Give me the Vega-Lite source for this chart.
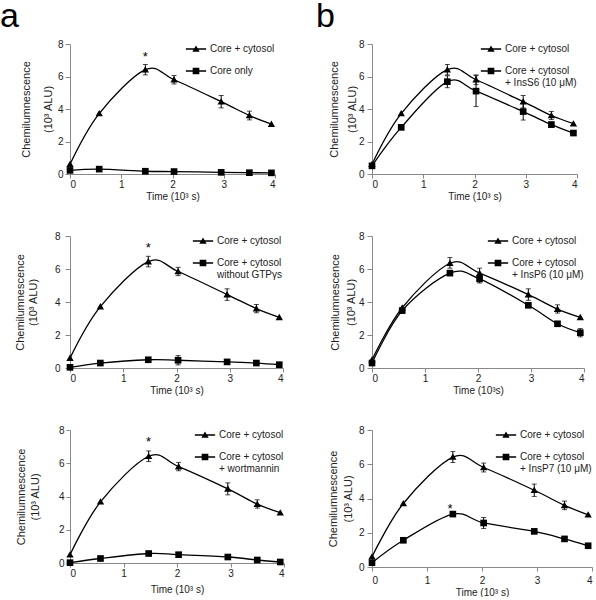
{
  "$schema": "https://vega.github.io/schema/vega-lite/v6.json",
  "padding": 0,
  "background": "white",
  "config": {
    "font": "Liberation Sans",
    "view": {"stroke": null},
    "axis": {"grid": false, "labelOverlap": false, "domainColor": "#888", "tickColor": "#888", "labelColor": "#222", "titleColor": "#222", "labelFontSize": 10, "titleFontWeight": "normal", "labelFont": "Liberation Sans", "titleFont": "Liberation Sans"},
    "axisX": {"titleFontSize": 10, "tickSize": 4, "labelPadding": 1, "titlePadding": 2},
    "axisY": {"titleFontSize": 11, "tickSize": 5},
    "legend": {"orient": "top-right", "offset": 0, "padding": 0, "labelFontSize": 10, "labelColor": "#222", "labelOffset": 9, "rowPadding": 9, "symbolSize": 49, "labelFont": "Liberation Sans"},
    "title": {"font": "Liberation Sans", "fontWeight": "normal", "color": "black"}
  },
  "resolve": {"scale": {"shape": "independent", "x": "independent", "y": "independent"}, "legend": {"shape": "independent"}, "axis": {"x": "independent", "y": "independent"}},
  "datasets": {
    "d": [
      {"p": "A1", "s": "Core + cytosol", "x": 0, "y": 0.6, "lo": null, "hi": null},
      {"p": "A1", "s": "Core + cytosol", "x": 0.57, "y": 3.72, "lo": null, "hi": null},
      {"p": "A1", "s": "Core + cytosol", "x": 1.47, "y": 6.42, "lo": 6.1, "hi": 6.74},
      {"p": "A1", "s": "Core + cytosol", "x": 2.03, "y": 5.8, "lo": 5.54, "hi": 6.06},
      {"p": "A1", "s": "Core + cytosol", "x": 2.95, "y": 4.45, "lo": 4.07, "hi": 4.83},
      {"p": "A1", "s": "Core + cytosol", "x": 3.5, "y": 3.6, "lo": 3.33, "hi": 3.87},
      {"p": "A1", "s": "Core + cytosol", "x": 3.93, "y": 3.07, "lo": null, "hi": null},
      {"p": "A1", "s": "Core only", "x": 0, "y": 0.22, "lo": null, "hi": null},
      {"p": "A1", "s": "Core only", "x": 0.57, "y": 0.3, "lo": null, "hi": null},
      {"p": "A1", "s": "Core only", "x": 1.47, "y": 0.17, "lo": null, "hi": null},
      {"p": "A1", "s": "Core only", "x": 2.03, "y": 0.15, "lo": null, "hi": null},
      {"p": "A1", "s": "Core only", "x": 2.95, "y": 0.1, "lo": null, "hi": null},
      {"p": "A1", "s": "Core only", "x": 3.5, "y": 0.08, "lo": null, "hi": null},
      {"p": "A1", "s": "Core only", "x": 3.93, "y": 0.07, "lo": null, "hi": null},

      {"p": "B1", "s": "Core + cytosol", "x": 0, "y": 0.6, "lo": null, "hi": null},
      {"p": "B1", "s": "Core + cytosol", "x": 0.57, "y": 3.72, "lo": null, "hi": null},
      {"p": "B1", "s": "Core + cytosol", "x": 1.47, "y": 6.42, "lo": 6.1, "hi": 6.74},
      {"p": "B1", "s": "Core + cytosol", "x": 2.03, "y": 5.8, "lo": 5.5, "hi": 6.1},
      {"p": "B1", "s": "Core + cytosol", "x": 2.95, "y": 4.45, "lo": 4.07, "hi": 4.83},
      {"p": "B1", "s": "Core + cytosol", "x": 3.5, "y": 3.6, "lo": 3.35, "hi": 3.85},
      {"p": "B1", "s": "Core + cytosol", "x": 3.93, "y": 3.1, "lo": null, "hi": null},
      {"p": "B1", "s": "Core + cytosol|+ InsS6 (10 μM)", "x": 0, "y": 0.5, "lo": null, "hi": null},
      {"p": "B1", "s": "Core + cytosol|+ InsS6 (10 μM)", "x": 0.57, "y": 2.87, "lo": null, "hi": null},
      {"p": "B1", "s": "Core + cytosol|+ InsS6 (10 μM)", "x": 1.47, "y": 5.68, "lo": 5.31, "hi": 6.05},
      {"p": "B1", "s": "Core + cytosol|+ InsS6 (10 μM)", "x": 2.03, "y": 5.1, "lo": 4.15, "hi": 6.05},
      {"p": "B1", "s": "Core + cytosol|+ InsS6 (10 μM)", "x": 2.95, "y": 3.84, "lo": 3.32, "hi": 4.36},
      {"p": "B1", "s": "Core + cytosol|+ InsS6 (10 μM)", "x": 3.5, "y": 3.04, "lo": 2.89, "hi": 3.19},
      {"p": "B1", "s": "Core + cytosol|+ InsS6 (10 μM)", "x": 3.93, "y": 2.52, "lo": 2.42, "hi": 2.62},

      {"p": "A2", "s": "Core + cytosol", "x": 0, "y": 0.6, "lo": null, "hi": null},
      {"p": "A2", "s": "Core + cytosol", "x": 0.57, "y": 3.72, "lo": null, "hi": null},
      {"p": "A2", "s": "Core + cytosol", "x": 1.47, "y": 6.45, "lo": 6.13, "hi": 6.77},
      {"p": "A2", "s": "Core + cytosol", "x": 2.03, "y": 5.85, "lo": 5.6, "hi": 6.1},
      {"p": "A2", "s": "Core + cytosol", "x": 2.95, "y": 4.45, "lo": 4.1, "hi": 4.8},
      {"p": "A2", "s": "Core + cytosol", "x": 3.5, "y": 3.6, "lo": 3.35, "hi": 3.85},
      {"p": "A2", "s": "Core + cytosol", "x": 3.93, "y": 3.07, "lo": null, "hi": null},
      {"p": "A2", "s": "Core + cytosol|without GTPγs", "x": 0, "y": 0.04, "lo": null, "hi": null},
      {"p": "A2", "s": "Core + cytosol|without GTPγs", "x": 0.57, "y": 0.3, "lo": null, "hi": null},
      {"p": "A2", "s": "Core + cytosol|without GTPγs", "x": 1.47, "y": 0.5, "lo": null, "hi": null},
      {"p": "A2", "s": "Core + cytosol|without GTPγs", "x": 2.03, "y": 0.47, "lo": 0.19, "hi": 0.75},
      {"p": "A2", "s": "Core + cytosol|without GTPγs", "x": 2.95, "y": 0.37, "lo": null, "hi": null},
      {"p": "A2", "s": "Core + cytosol|without GTPγs", "x": 3.5, "y": 0.3, "lo": null, "hi": null},
      {"p": "A2", "s": "Core + cytosol|without GTPγs", "x": 3.93, "y": 0.2, "lo": null, "hi": null},

      {"p": "B2", "s": "Core + cytosol", "x": 0, "y": 0.5, "lo": null, "hi": null},
      {"p": "B2", "s": "Core + cytosol", "x": 0.57, "y": 3.65, "lo": null, "hi": null},
      {"p": "B2", "s": "Core + cytosol", "x": 1.47, "y": 6.35, "lo": 6.05, "hi": 6.7},
      {"p": "B2", "s": "Core + cytosol", "x": 2.03, "y": 5.75, "lo": 5.5, "hi": 6.05},
      {"p": "B2", "s": "Core + cytosol", "x": 2.95, "y": 4.45, "lo": 4.1, "hi": 4.8},
      {"p": "B2", "s": "Core + cytosol", "x": 3.5, "y": 3.57, "lo": 3.33, "hi": 3.83},
      {"p": "B2", "s": "Core + cytosol", "x": 3.93, "y": 3.07, "lo": null, "hi": null},
      {"p": "B2", "s": "Core + cytosol|+ InsP6 (10 μM)", "x": 0, "y": 0.3, "lo": null, "hi": null},
      {"p": "B2", "s": "Core + cytosol|+ InsP6 (10 μM)", "x": 0.57, "y": 3.48, "lo": null, "hi": null},
      {"p": "B2", "s": "Core + cytosol|+ InsP6 (10 μM)", "x": 1.47, "y": 5.75, "lo": null, "hi": null},
      {"p": "B2", "s": "Core + cytosol|+ InsP6 (10 μM)", "x": 2.03, "y": 5.4, "lo": 5.15, "hi": 5.65},
      {"p": "B2", "s": "Core + cytosol|+ InsP6 (10 μM)", "x": 2.95, "y": 3.8, "lo": null, "hi": null},
      {"p": "B2", "s": "Core + cytosol|+ InsP6 (10 μM)", "x": 3.5, "y": 2.68, "lo": null, "hi": null},
      {"p": "B2", "s": "Core + cytosol|+ InsP6 (10 μM)", "x": 3.93, "y": 2.14, "lo": 1.89, "hi": 2.39},

      {"p": "A3", "s": "Core + cytosol", "x": 0, "y": 0.5, "lo": null, "hi": null},
      {"p": "A3", "s": "Core + cytosol", "x": 0.57, "y": 3.68, "lo": null, "hi": null},
      {"p": "A3", "s": "Core + cytosol", "x": 1.47, "y": 6.42, "lo": 6.1, "hi": 6.74},
      {"p": "A3", "s": "Core + cytosol", "x": 2.03, "y": 5.8, "lo": 5.55, "hi": 6.05},
      {"p": "A3", "s": "Core + cytosol", "x": 2.95, "y": 4.46, "lo": 4.1, "hi": 4.82},
      {"p": "A3", "s": "Core + cytosol", "x": 3.5, "y": 3.54, "lo": 3.3, "hi": 3.8},
      {"p": "A3", "s": "Core + cytosol", "x": 3.93, "y": 3.03, "lo": null, "hi": null},
      {"p": "A3", "s": "Core + cytosol|+ wortmannin", "x": 0, "y": 0.02, "lo": null, "hi": null},
      {"p": "A3", "s": "Core + cytosol|+ wortmannin", "x": 0.57, "y": 0.27, "lo": null, "hi": null},
      {"p": "A3", "s": "Core + cytosol|+ wortmannin", "x": 1.47, "y": 0.57, "lo": null, "hi": null},
      {"p": "A3", "s": "Core + cytosol|+ wortmannin", "x": 2.03, "y": 0.5, "lo": null, "hi": null},
      {"p": "A3", "s": "Core + cytosol|+ wortmannin", "x": 2.95, "y": 0.36, "lo": null, "hi": null},
      {"p": "A3", "s": "Core + cytosol|+ wortmannin", "x": 3.5, "y": 0.18, "lo": null, "hi": null},
      {"p": "A3", "s": "Core + cytosol|+ wortmannin", "x": 3.93, "y": 0.06, "lo": null, "hi": null},

      {"p": "B3", "s": "Core + cytosol", "x": 0, "y": 0.6, "lo": null, "hi": null},
      {"p": "B3", "s": "Core + cytosol", "x": 0.57, "y": 3.71, "lo": null, "hi": null},
      {"p": "B3", "s": "Core + cytosol", "x": 1.47, "y": 6.42, "lo": 6.1, "hi": 6.74},
      {"p": "B3", "s": "Core + cytosol", "x": 2.03, "y": 5.81, "lo": 5.55, "hi": 6.07},
      {"p": "B3", "s": "Core + cytosol", "x": 2.95, "y": 4.48, "lo": 4.12, "hi": 4.84},
      {"p": "B3", "s": "Core + cytosol", "x": 3.5, "y": 3.6, "lo": 3.35, "hi": 3.85},
      {"p": "B3", "s": "Core + cytosol", "x": 3.93, "y": 3.05, "lo": null, "hi": null},
      {"p": "B3", "s": "Core + cytosol|+ InsP7 (10 μM)", "x": 0, "y": 0.25, "lo": null, "hi": null},
      {"p": "B3", "s": "Core + cytosol|+ InsP7 (10 μM)", "x": 0.57, "y": 1.56, "lo": null, "hi": null},
      {"p": "B3", "s": "Core + cytosol|+ InsP7 (10 μM)", "x": 1.47, "y": 3.09, "lo": null, "hi": null},
      {"p": "B3", "s": "Core + cytosol|+ InsP7 (10 μM)", "x": 2.03, "y": 2.57, "lo": 2.25, "hi": 2.89},
      {"p": "B3", "s": "Core + cytosol|+ InsP7 (10 μM)", "x": 2.95, "y": 2.08, "lo": null, "hi": null},
      {"p": "B3", "s": "Core + cytosol|+ InsP7 (10 μM)", "x": 3.5, "y": 1.64, "lo": null, "hi": null},
      {"p": "B3", "s": "Core + cytosol|+ InsP7 (10 μM)", "x": 3.93, "y": 1.24, "lo": null, "hi": null}
    ],
    "stars": [
      {"p": "A1", "x": 1.47, "y": 7.2, "t": "*"},
      {"p": "A2", "x": 1.47, "y": 7.25, "t": "*"},
      {"p": "A3", "x": 1.47, "y": 7.25, "t": "*"},
      {"p": "B3", "x": 1.42, "y": 3.4, "t": "*"}
    ]
  },
  "columns": 2,
  "bounds": "flush",
  "align": "each",
  "spacing": {"row": 62, "column": 88},
  "concat": [
    {
      "width": 205, "height": 130,
      "title": {"text": "a", "anchor": "start", "frame": "group", "fontSize": 34, "dx": -70, "offset": -22, "baseline": "alphabetic"},
      "resolve": {"scale": {"shape": "independent"}},
      "encoding": {
        "x": {"field": "x", "type": "quantitative", "scale": {"domain": [0, 4]}, "axis": {"values": [0, 1, 2, 3, 4], "title": "Time  (10³ s)"}},
        "y": {"field": "y", "type": "quantitative", "title": ["Chemilumnescence", "(10³ ALU)"], "scale": {"domain": [0, 8]}, "axis": {"values": [0, 2, 4, 6, 8], "titleLineHeight": 22, "titlePadding": 4, "labelPadding": 2}}
      },
      "layer": [
        {"data": {"name": "d"}, "transform": [{"filter": "datum.p == 'A1'"}], "mark": {"type": "line", "interpolate": "cardinal", "color": "black", "strokeWidth": 1.3}, "encoding": {"detail": {"field": "s"}}},
        {"data": {"name": "d"}, "transform": [{"filter": "datum.p == 'A1' && datum.lo != null"}], "mark": {"type": "errorbar", "ticks": true, "color": "black"},
         "encoding": {"y": {"field": "lo", "type": "quantitative", "title": ["Chemilumnescence", "(10³ ALU)"], "axis": {"values": [0, 2, 4, 6, 8], "titleLineHeight": 22, "titlePadding": 4, "labelPadding": 2}}, "y2": {"field": "hi"}}},
        {"data": {"name": "d"}, "transform": [{"filter": "datum.p == 'A1'"}], "mark": {"type": "point", "filled": true, "opacity": 1, "color": "black", "size": 49},
         "encoding": {"shape": {"field": "s", "type": "nominal", "scale": {"domain": ["Core + cytosol", "Core only"], "range": ["M0,-1L1.05,0.8L-1.05,0.8Z", "M-0.95,-0.95H0.95V0.95H-0.95Z"]}, "legend": null}}},
        {"data": {"name": "d"}, "transform": [{"filter": "datum.p == 'A1' && datum.y > 100"}], "mark": {"type": "point", "filled": true, "opacity": 1, "color": "black", "size": 49},
         "encoding": {"shape": {"field": "s", "type": "nominal", "scale": {"domain": ["Core + cytosol", "Core only"], "range": ["M-2.9,-0.2H2.9V0.2H-2.9ZM0,-1L1.05,0.8L-1.05,0.8Z", "M-2.9,-0.2H2.9V0.2H-2.9ZM-0.95,-0.95H0.95V0.95H-0.95Z"]}, "legend": {"title": null, "labelExpr": "split(datum.label, '|')", "encode": {"labels": {"dy": {"value": {"expr": "indexof(datum.label, '|') >= 0 ? 5 : 0"}}}}}}}},
        {"data": {"name": "stars"}, "transform": [{"filter": "datum.p == 'A1'"}], "mark": {"type": "text", "fontSize": 13, "color": "black", "baseline": "middle"}, "encoding": {"text": {"field": "t"}}}
      ]
    },
    {
      "width": 205, "height": 130,
      "title": {"text": "b", "anchor": "start", "frame": "group", "fontSize": 34, "dx": -56, "offset": -22, "baseline": "alphabetic"},
      "resolve": {"scale": {"shape": "independent"}},
      "encoding": {
        "x": {"field": "x", "type": "quantitative", "scale": {"domain": [0, 4]}, "axis": {"values": [0, 1, 2, 3, 4], "title": "Time  (10³ s)"}},
        "y": {"field": "y", "type": "quantitative", "title": ["Chemilumnescence", "(10³ ALU)"], "scale": {"domain": [0, 8]}, "axis": {"values": [0, 2, 4, 6, 8], "titleLineHeight": 18, "titlePadding": 1, "labelPadding": 3}}
      },
      "layer": [
        {"data": {"name": "d"}, "transform": [{"filter": "datum.p == 'B1'"}], "mark": {"type": "line", "interpolate": "cardinal", "color": "black", "strokeWidth": 1.3}, "encoding": {"detail": {"field": "s"}}},
        {"data": {"name": "d"}, "transform": [{"filter": "datum.p == 'B1' && datum.lo != null"}], "mark": {"type": "errorbar", "ticks": true, "color": "black"},
         "encoding": {"y": {"field": "lo", "type": "quantitative", "title": ["Chemilumnescence", "(10³ ALU)"], "axis": {"values": [0, 2, 4, 6, 8], "titleLineHeight": 18, "titlePadding": 1, "labelPadding": 3}}, "y2": {"field": "hi"}}},
        {"data": {"name": "d"}, "transform": [{"filter": "datum.p == 'B1'"}], "mark": {"type": "point", "filled": true, "opacity": 1, "color": "black", "size": 49},
         "encoding": {"shape": {"field": "s", "type": "nominal", "scale": {"domain": ["Core + cytosol", "Core + cytosol|+ InsS6 (10 μM)"], "range": ["M0,-1L1.05,0.8L-1.05,0.8Z", "M-0.95,-0.95H0.95V0.95H-0.95Z"]}, "legend": null}}},
        {"data": {"name": "d"}, "transform": [{"filter": "datum.p == 'B1' && datum.y > 100"}], "mark": {"type": "point", "filled": true, "opacity": 1, "color": "black", "size": 49},
         "encoding": {"shape": {"field": "s", "type": "nominal", "scale": {"domain": ["Core + cytosol", "Core + cytosol|+ InsS6 (10 μM)"], "range": ["M-2.9,-0.2H2.9V0.2H-2.9ZM0,-1L1.05,0.8L-1.05,0.8Z", "M-2.9,-0.2H2.9V0.2H-2.9ZM-0.95,-0.95H0.95V0.95H-0.95Z"]}, "legend": {"title": null, "labelExpr": "split(datum.label, '|')", "encode": {"labels": {"dy": {"value": {"expr": "indexof(datum.label, '|') >= 0 ? 5 : 0"}}}}}}}}
      ]
    },
    {
      "width": 213, "height": 132,
      "resolve": {"scale": {"shape": "independent"}},
      "encoding": {
        "x": {"field": "x", "type": "quantitative", "scale": {"domain": [0, 4]}, "axis": {"values": [0, 1, 2, 3, 4], "title": "Time (10³ s)"}},
        "y": {"field": "y", "type": "quantitative", "title": ["Chemilumnescence", "(10³ ALU)"], "scale": {"domain": [0, 8]}, "axis": {"values": [0, 2, 4, 6, 8], "titleLineHeight": 13, "titlePadding": 16, "labelPadding": 5}}
      },
      "layer": [
        {"data": {"name": "d"}, "transform": [{"filter": "datum.p == 'A2'"}], "mark": {"type": "line", "interpolate": "cardinal", "color": "black", "strokeWidth": 1.3}, "encoding": {"detail": {"field": "s"}}},
        {"data": {"name": "d"}, "transform": [{"filter": "datum.p == 'A2' && datum.lo != null"}], "mark": {"type": "errorbar", "ticks": true, "color": "black"},
         "encoding": {"y": {"field": "lo", "type": "quantitative", "title": ["Chemilumnescence", "(10³ ALU)"], "axis": {"values": [0, 2, 4, 6, 8], "titleLineHeight": 13, "titlePadding": 16, "labelPadding": 5}}, "y2": {"field": "hi"}}},
        {"data": {"name": "d"}, "transform": [{"filter": "datum.p == 'A2'"}], "mark": {"type": "point", "filled": true, "opacity": 1, "color": "black", "size": 49},
         "encoding": {"shape": {"field": "s", "type": "nominal", "scale": {"domain": ["Core + cytosol", "Core + cytosol|without GTPγs"], "range": ["M0,-1L1.05,0.8L-1.05,0.8Z", "M-0.95,-0.95H0.95V0.95H-0.95Z"]}, "legend": null}}},
        {"data": {"name": "d"}, "transform": [{"filter": "datum.p == 'A2' && datum.y > 100"}], "mark": {"type": "point", "filled": true, "opacity": 1, "color": "black", "size": 49},
         "encoding": {"shape": {"field": "s", "type": "nominal", "scale": {"domain": ["Core + cytosol", "Core + cytosol|without GTPγs"], "range": ["M-2.9,-0.2H2.9V0.2H-2.9ZM0,-1L1.05,0.8L-1.05,0.8Z", "M-2.9,-0.2H2.9V0.2H-2.9ZM-0.95,-0.95H0.95V0.95H-0.95Z"]}, "legend": {"title": null, "labelExpr": "split(datum.label, '|')", "encode": {"labels": {"dy": {"value": {"expr": "indexof(datum.label, '|') >= 0 ? 5 : 0"}}}}}}}},
        {"data": {"name": "stars"}, "transform": [{"filter": "datum.p == 'A2'"}], "mark": {"type": "text", "fontSize": 13, "color": "black", "baseline": "middle"}, "encoding": {"text": {"field": "t"}}}
      ]
    },
    {
      "width": 212, "height": 132,
      "resolve": {"scale": {"shape": "independent"}},
      "encoding": {
        "x": {"field": "x", "type": "quantitative", "scale": {"domain": [0, 4]}, "axis": {"values": [0, 1, 2, 3, 4], "title": "Time (10³s)"}},
        "y": {"field": "y", "type": "quantitative", "title": ["Chemilumnescence", "(10³ ALU)"], "scale": {"domain": [0, 8]}, "axis": {"values": [0, 2, 4, 6, 8], "titleLineHeight": 16, "titlePadding": 2, "labelPadding": 3}}
      },
      "layer": [
        {"data": {"name": "d"}, "transform": [{"filter": "datum.p == 'B2'"}], "mark": {"type": "line", "interpolate": "cardinal", "color": "black", "strokeWidth": 1.3}, "encoding": {"detail": {"field": "s"}}},
        {"data": {"name": "d"}, "transform": [{"filter": "datum.p == 'B2' && datum.lo != null"}], "mark": {"type": "errorbar", "ticks": true, "color": "black"},
         "encoding": {"y": {"field": "lo", "type": "quantitative", "title": ["Chemilumnescence", "(10³ ALU)"], "axis": {"values": [0, 2, 4, 6, 8], "titleLineHeight": 16, "titlePadding": 2, "labelPadding": 3}}, "y2": {"field": "hi"}}},
        {"data": {"name": "d"}, "transform": [{"filter": "datum.p == 'B2'"}], "mark": {"type": "point", "filled": true, "opacity": 1, "color": "black", "size": 49},
         "encoding": {"shape": {"field": "s", "type": "nominal", "scale": {"domain": ["Core + cytosol", "Core + cytosol|+ InsP6 (10 μM)"], "range": ["M0,-1L1.05,0.8L-1.05,0.8Z", "M-0.95,-0.95H0.95V0.95H-0.95Z"]}, "legend": null}}},
        {"data": {"name": "d"}, "transform": [{"filter": "datum.p == 'B2' && datum.y > 100"}], "mark": {"type": "point", "filled": true, "opacity": 1, "color": "black", "size": 49},
         "encoding": {"shape": {"field": "s", "type": "nominal", "scale": {"domain": ["Core + cytosol", "Core + cytosol|+ InsP6 (10 μM)"], "range": ["M-2.9,-0.2H2.9V0.2H-2.9ZM0,-1L1.05,0.8L-1.05,0.8Z", "M-2.9,-0.2H2.9V0.2H-2.9ZM-0.95,-0.95H0.95V0.95H-0.95Z"]}, "legend": {"title": null, "labelExpr": "split(datum.label, '|')", "encode": {"labels": {"dy": {"value": {"expr": "indexof(datum.label, '|') >= 0 ? 5 : 0"}}}}}}}}
      ]
    },
    {
      "width": 214, "height": 133,
      "resolve": {"scale": {"shape": "independent"}},
      "encoding": {
        "x": {"field": "x", "type": "quantitative", "scale": {"domain": [0, 4]}, "axis": {"values": [0, 1, 2, 3, 4], "title": "Time (10³ s)", "titlePadding": 6}},
        "y": {"field": "y", "type": "quantitative", "title": ["Chemilumnescence", "(10³ ALU)"], "scale": {"domain": [0, 8]}, "axis": {"values": [0, 2, 4, 6, 8], "titleLineHeight": 14, "titlePadding": 18, "labelPadding": 2, "tickSize": 4}}
      },
      "layer": [
        {"data": {"name": "d"}, "transform": [{"filter": "datum.p == 'A3'"}], "mark": {"type": "line", "interpolate": "cardinal", "color": "black", "strokeWidth": 1.3}, "encoding": {"detail": {"field": "s"}}},
        {"data": {"name": "d"}, "transform": [{"filter": "datum.p == 'A3' && datum.lo != null"}], "mark": {"type": "errorbar", "ticks": true, "color": "black"},
         "encoding": {"y": {"field": "lo", "type": "quantitative", "title": ["Chemilumnescence", "(10³ ALU)"], "axis": {"values": [0, 2, 4, 6, 8], "titleLineHeight": 14, "titlePadding": 18, "labelPadding": 2, "tickSize": 4}}, "y2": {"field": "hi"}}},
        {"data": {"name": "d"}, "transform": [{"filter": "datum.p == 'A3'"}], "mark": {"type": "point", "filled": true, "opacity": 1, "color": "black", "size": 49},
         "encoding": {"shape": {"field": "s", "type": "nominal", "scale": {"domain": ["Core + cytosol", "Core + cytosol|+ wortmannin"], "range": ["M0,-1L1.05,0.8L-1.05,0.8Z", "M-0.95,-0.95H0.95V0.95H-0.95Z"]}, "legend": null}}},
        {"data": {"name": "d"}, "transform": [{"filter": "datum.p == 'A3' && datum.y > 100"}], "mark": {"type": "point", "filled": true, "opacity": 1, "color": "black", "size": 49},
         "encoding": {"shape": {"field": "s", "type": "nominal", "scale": {"domain": ["Core + cytosol", "Core + cytosol|+ wortmannin"], "range": ["M-2.9,-0.2H2.9V0.2H-2.9ZM0,-1L1.05,0.8L-1.05,0.8Z", "M-2.9,-0.2H2.9V0.2H-2.9ZM-0.95,-0.95H0.95V0.95H-0.95Z"]}, "legend": {"title": null, "labelExpr": "split(datum.label, '|')", "encode": {"labels": {"dy": {"value": {"expr": "indexof(datum.label, '|') >= 0 ? 5 : 0"}}}}}}}},
        {"data": {"name": "stars"}, "transform": [{"filter": "datum.p == 'A3'"}], "mark": {"type": "text", "fontSize": 13, "color": "black", "baseline": "middle"}, "encoding": {"text": {"field": "t"}}}
      ]
    },
    {
      "width": 220, "height": 137,
      "resolve": {"scale": {"shape": "independent"}},
      "encoding": {
        "x": {"field": "x", "type": "quantitative", "scale": {"domain": [0, 4]}, "axis": {"values": [0, 1, 2, 3, 4], "title": "Time (10³ s)", "labelPadding": 4}},
        "y": {"field": "y", "type": "quantitative", "title": ["Chemilumnescence", "(10³ ALU)"], "scale": {"domain": [0, 8]}, "axis": {"values": [0, 2, 4, 6, 8], "titleLineHeight": 15, "titlePadding": 5, "labelPadding": 3}}
      },
      "layer": [
        {"data": {"name": "d"}, "transform": [{"filter": "datum.p == 'B3'"}], "mark": {"type": "line", "interpolate": "cardinal", "color": "black", "strokeWidth": 1.3}, "encoding": {"detail": {"field": "s"}}},
        {"data": {"name": "d"}, "transform": [{"filter": "datum.p == 'B3' && datum.lo != null"}], "mark": {"type": "errorbar", "ticks": true, "color": "black"},
         "encoding": {"y": {"field": "lo", "type": "quantitative", "title": ["Chemilumnescence", "(10³ ALU)"], "axis": {"values": [0, 2, 4, 6, 8], "titleLineHeight": 15, "titlePadding": 5, "labelPadding": 3}}, "y2": {"field": "hi"}}},
        {"data": {"name": "d"}, "transform": [{"filter": "datum.p == 'B3'"}], "mark": {"type": "point", "filled": true, "opacity": 1, "color": "black", "size": 49},
         "encoding": {"shape": {"field": "s", "type": "nominal", "scale": {"domain": ["Core + cytosol", "Core + cytosol|+ InsP7 (10 μM)"], "range": ["M0,-1L1.05,0.8L-1.05,0.8Z", "M-0.95,-0.95H0.95V0.95H-0.95Z"]}, "legend": null}}},
        {"data": {"name": "d"}, "transform": [{"filter": "datum.p == 'B3' && datum.y > 100"}], "mark": {"type": "point", "filled": true, "opacity": 1, "color": "black", "size": 49},
         "encoding": {"shape": {"field": "s", "type": "nominal", "scale": {"domain": ["Core + cytosol", "Core + cytosol|+ InsP7 (10 μM)"], "range": ["M-2.9,-0.2H2.9V0.2H-2.9ZM0,-1L1.05,0.8L-1.05,0.8Z", "M-2.9,-0.2H2.9V0.2H-2.9ZM-0.95,-0.95H0.95V0.95H-0.95Z"]}, "legend": {"title": null, "labelExpr": "split(datum.label, '|')", "encode": {"labels": {"dy": {"value": {"expr": "indexof(datum.label, '|') >= 0 ? 5 : 0"}}}}}}}},
        {"data": {"name": "stars"}, "transform": [{"filter": "datum.p == 'B3'"}], "mark": {"type": "text", "fontSize": 13, "color": "black", "baseline": "middle"}, "encoding": {"text": {"field": "t"}}}
      ]
    }
  ]
}
